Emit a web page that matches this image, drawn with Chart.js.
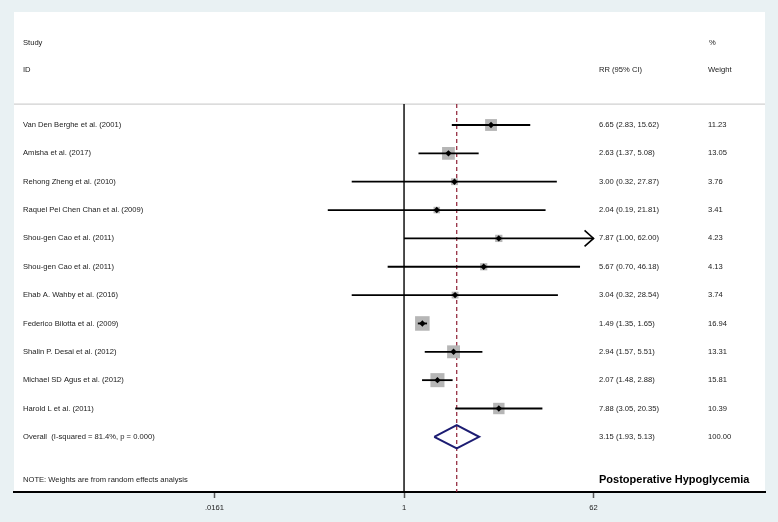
<!DOCTYPE html>
<html>
<head>
<meta charset="utf-8">
<script src="https://cdn.jsdelivr.net/npm/chart.js"></script>
<style>
  html, body { margin: 0; padding: 0; background: #e9f1f3; }
  #wrap { width: 778px; height: 522px; }
</style>
</head>
<body>
<div id="wrap"><canvas id="forestChart" width="778" height="522"></canvas></div>
<script>
  // study data (RR with 95% CI, random effects weights)
  var studies = [
    'Van Den Berghe et al. (2001)',
    'Amisha et al. (2017)',
    'Rehong Zheng et al. (2010)',
    'Raquel Pei Chen Chan et al. (2009)',
    'Shou-gen Cao et al. (2011)',
    'Shou-gen Cao et al. (2011)',
    'Ehab A. Wahby et al. (2016)',
    'Federico Bilotta et al. (2009)',
    'Shalin P. Desai et al. (2012)',
    'Michael SD Agus et al. (2012)',
    'Harold L et al. (2011)'
  ];
  var rr      = [6.65, 2.63, 3.00, 2.04, 7.87, 5.67, 3.04, 1.49, 2.94, 2.07, 7.88];
  var lower   = [2.83, 1.37, 0.32, 0.19, 1.00, 0.70, 0.32, 1.35, 1.57, 1.48, 3.05];
  var upper   = [15.62, 5.08, 27.87, 21.81, 62.00, 46.18, 28.54, 1.65, 5.51, 2.88, 20.35];
  var weights = [11.23, 13.05, 3.76, 3.41, 4.23, 4.13, 3.74, 16.94, 13.31, 15.81, 10.39];

  var overallLabel = 'Overall  (I-squared = 81.4%, p = 0.000)';
  var overallRR = 3.15;
  var overallLower = 1.93;
  var overallUpper = 5.13;
  var overallWeight = 100.00;

  var tickValues = [0.0161, 1, 62];
  var tickLabels = ['.0161', '1', '62'];
  var clipMax = 62;

  // scale window (log10 units / row units)
  var xMin = Math.pow(10, -3.689);
  var xMax = Math.pow(10, 3.414);
  var yMin = -3.986;
  var yMax = 12.945;
  var sepRow = -0.74;
  var overallRow = studies.length;

  function fmt(v) { return v.toFixed(2); }

  var ciSets = studies.map(function(s, i) {
    return {
      type: 'scatter',
      showLine: true,
      data: [{ x: lower[i], y: i }, { x: Math.min(upper[i], clipMax), y: i }],
      borderColor: '#000',
      borderWidth: 1.8,
      pointRadius: 0,
      order: 1
    };
  });

  var boxSet = {
    type: 'scatter',
    data: rr.map(function(v, i) { return { x: v, y: i }; }),
    pointStyle: 'rect',
    pointRadius: weights.map(function(w) { return 2.5 * Math.sqrt(w); }),
    backgroundColor: '#b6b6b6',
    borderWidth: 0,
    order: 2
  };

  var estSet = {
    type: 'scatter',
    data: rr.map(function(v, i) { return { x: v, y: i }; }),
    pointStyle: 'rectRot',
    pointRadius: 3.2,
    backgroundColor: '#000',
    borderWidth: 0,
    order: 0
  };

  var diamondSet = {
    type: 'scatter',
    showLine: true,
    data: [
      { x: overallLower, y: overallRow },
      { x: overallRR, y: overallRow - 0.41 },
      { x: overallUpper, y: overallRow },
      { x: overallRR, y: overallRow + 0.41 },
      { x: overallLower, y: overallRow }
    ],
    borderColor: '#1c1c72',
    borderWidth: 2,
    borderJoinStyle: 'miter',
    pointRadius: 0,
    order: 0
  };

  var nullLine = {
    type: 'scatter',
    showLine: true,
    data: [{ x: 1, y: sepRow }, { x: 1, y: yMax }],
    borderColor: '#000',
    borderWidth: 1.4,
    pointRadius: 0,
    order: 3
  };

  var overallLine = {
    type: 'scatter',
    showLine: true,
    data: [{ x: overallRR, y: sepRow }, { x: overallRR, y: yMax }],
    borderColor: '#8e1f35',
    borderWidth: 1.2,
    borderDash: [4, 3],
    pointRadius: 0,
    order: 3
  };

  var forestPlugin = {
    id: 'forest',
    beforeDraw: function(chart) {
      var c = chart.ctx, a = chart.chartArea;
      c.save();
      c.fillStyle = '#e9f1f3';
      c.fillRect(0, 0, chart.width, chart.height);
      c.fillStyle = '#fff';
      c.fillRect(a.left, a.top, a.right - a.left, a.bottom - a.top);
      c.restore();
    },
    beforeDatasetsDraw: function(chart) {
      var c = chart.ctx, a = chart.chartArea, ys = chart.scales.y;
      var sy = ys.getPixelForValue(sepRow);
      c.save();
      c.strokeStyle = '#d0d0d0';
      c.lineWidth = 1.2;
      c.beginPath();
      c.moveTo(a.left, sy);
      c.lineTo(a.right, sy);
      c.stroke();
      c.restore();
    },
    afterDraw: function(chart) {
      var c = chart.ctx, xs = chart.scales.x, ys = chart.scales.y;
      var colName = 23, colRR = 599, colW = 708;
      c.save();
      c.fillStyle = '#1a1a1a';
      c.font = '7.6px "Liberation Sans", Arial, sans-serif';
      c.textBaseline = 'middle';
      c.textAlign = 'left';

      c.fillText('Study', colName, ys.getPixelForValue(-2.89));
      c.fillText('ID', colName, ys.getPixelForValue(-1.94));
      c.fillText('RR (95% CI)', colRR, ys.getPixelForValue(-1.94));
      c.fillText('%', colW + 1, ys.getPixelForValue(-2.89));
      c.fillText('Weight', colW, ys.getPixelForValue(-1.94));

      studies.forEach(function(s, i) {
        var y = ys.getPixelForValue(i);
        c.fillText(s, colName, y);
        c.fillText(fmt(rr[i]) + ' (' + fmt(lower[i]) + ', ' + fmt(upper[i]) + ')', colRR, y);
        c.fillText(fmt(weights[i]), colW, y);
      });

      var oy = ys.getPixelForValue(overallRow);
      c.fillText(overallLabel, colName, oy);
      c.fillText(fmt(overallRR) + ' (' + fmt(overallLower) + ', ' + fmt(overallUpper) + ')', colRR, oy);
      c.fillText(fmt(overallWeight), colW, oy);

      var ny = ys.getPixelForValue(12.52);
      c.fillText('NOTE: Weights are from random effects analysis', colName, ny);
      c.font = 'bold 11px "Liberation Sans", Arial, sans-serif';
      c.fillStyle = '#000';
      c.fillText('Postoperative Hypoglycemia', colRR, ny);

      // arrows for clipped confidence intervals
      c.strokeStyle = '#000';
      c.lineWidth = 1.6;
      upper.forEach(function(u, i) {
        if (u < clipMax) return;
        var tx = xs.getPixelForValue(clipMax), ty = ys.getPixelForValue(i);
        c.beginPath();
        c.moveTo(tx - 9, ty - 8);
        c.lineTo(tx, ty);
        c.lineTo(tx - 9, ty + 8);
        c.stroke();
      });
      c.restore();
    }
  };

  var ctx = document.getElementById('forestChart').getContext('2d');
  var forestChart = new Chart(ctx, {
    type: 'scatter',
    data: {
      datasets: [estSet, diamondSet, boxSet].concat(ciSets, [nullLine, overallLine])
    },
    options: {
      responsive: false,
      animation: false,
      layout: { padding: { left: 14, right: 13, top: 12, bottom: 0 } },
      plugins: { legend: { display: false }, tooltip: { enabled: false } },
      scales: {
        x: {
          type: 'logarithmic',
          min: xMin,
          max: xMax,
          bounds: 'data',
          afterBuildTicks: function(axis) {
            axis.ticks = tickValues.map(function(v) { return { value: v }; });
          },
          afterFit: function(axis) { axis.height = 30; },
          border: { display: true, color: '#000', width: 2 },
          grid: { drawOnChartArea: false, drawTicks: true, tickLength: 6, tickColor: '#555', tickWidth: 1.5 },
          ticks: {
            autoSkip: false,
            maxRotation: 0,
            padding: 5,
            color: '#1a1a1a',
            font: { family: '"Liberation Sans", Arial, sans-serif', size: 7.6 },
            callback: function(v, i) { return tickLabels[i]; }
          }
        },
        y: {
          type: 'linear',
          display: false,
          reverse: true,
          min: yMin,
          max: yMax,
          bounds: 'data'
        }
      }
    },
    plugins: [forestPlugin]
  });
</script>
</body>
</html>
